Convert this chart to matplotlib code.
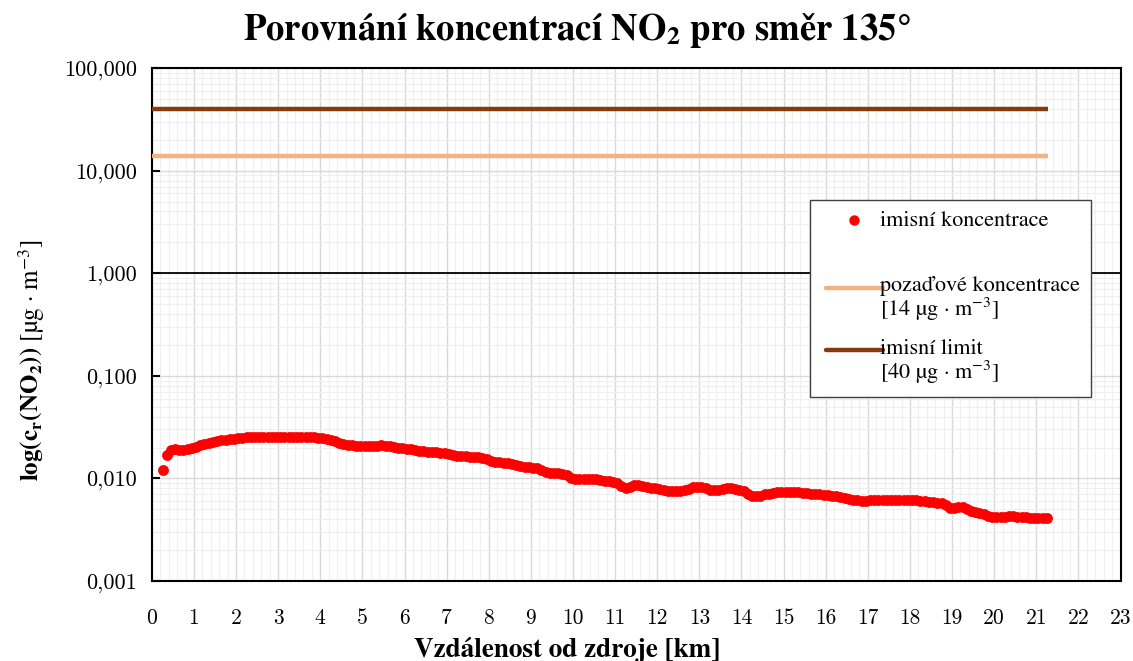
import matplotlib
matplotlib.use("Agg")
import matplotlib.pyplot as plt
from matplotlib.legend_handler import HandlerLine2D
from matplotlib.lines import Line2D
from matplotlib.ticker import FuncFormatter, LogLocator, MultipleLocator, NullFormatter

# distance from source [km] and ground concentration of NO2 [ug/m3]
distance_km = [
    0.27,
    0.35, 0.45, 0.55, 0.65, 0.75, 0.85, 0.95, 1.05, 1.15, 1.25,
    1.35, 1.45, 1.55, 1.65, 1.75, 1.85, 1.95, 2.05, 2.15, 2.25,
    2.35, 2.45, 2.55, 2.65, 2.75, 2.85, 2.95, 3.05, 3.15, 3.25,
    3.35, 3.45, 3.55, 3.65, 3.75, 3.85, 3.95, 4.05, 4.15, 4.25,
    4.35, 4.45, 4.55, 4.65, 4.75, 4.85, 4.95, 5.05, 5.15, 5.25,
    5.35, 5.45, 5.55, 5.65, 5.75, 5.85, 5.95, 6.05, 6.15, 6.25,
    6.35, 6.45, 6.55, 6.65, 6.75, 6.85, 6.95, 7.05, 7.15, 7.25,
    7.35, 7.45, 7.55, 7.65, 7.75, 7.85, 7.95, 8.05, 8.15, 8.25,
    8.35, 8.45, 8.55, 8.65, 8.75, 8.85, 8.95, 9.05, 9.15, 9.25,
    9.35, 9.45, 9.55, 9.65, 9.75, 9.85, 9.95, 10.05, 10.15, 10.25,
    10.35, 10.45, 10.55, 10.65, 10.75, 10.85, 10.95, 11.05, 11.15, 11.25,
    11.35, 11.45, 11.55, 11.65, 11.75, 11.85, 11.95, 12.05, 12.15, 12.25,
    12.35, 12.45, 12.55, 12.65, 12.75, 12.85, 12.95, 13.05, 13.15, 13.25,
    13.35, 13.45, 13.55, 13.65, 13.75, 13.85, 13.95, 14.05, 14.15, 14.25,
    14.35, 14.45, 14.55, 14.65, 14.75, 14.85, 14.95, 15.05, 15.15, 15.25,
    15.35, 15.45, 15.55, 15.65, 15.75, 15.85, 15.95, 16.05, 16.15, 16.25,
    16.35, 16.45, 16.55, 16.65, 16.75, 16.85, 16.95, 17.05, 17.15, 17.25,
    17.35, 17.45, 17.55, 17.65, 17.75, 17.85, 17.95, 18.05, 18.15, 18.25,
    18.35, 18.45, 18.55, 18.65, 18.75, 18.85, 18.95, 19.05, 19.15, 19.25,
    19.35, 19.45, 19.55, 19.65, 19.75, 19.85, 19.95, 20.05, 20.15, 20.25,
    20.35, 20.45, 20.55, 20.65, 20.75, 20.85, 20.95, 21.05, 21.15, 21.25,
]
concentration = [
    0.0121,
    0.0171, 0.0190, 0.0192, 0.0189, 0.0189, 0.0192, 0.0198, 0.0204, 0.0210, 0.0217,
    0.0224, 0.0228, 0.0232, 0.0236, 0.0239, 0.0242, 0.0245, 0.0247, 0.0249, 0.0251,
    0.0253, 0.0254, 0.0255, 0.0256, 0.0256, 0.0256, 0.0256, 0.0256, 0.0256, 0.0256,
    0.0255, 0.0255, 0.0254, 0.0254, 0.0253, 0.0251, 0.0249, 0.0247, 0.0243, 0.0238,
    0.0230, 0.0222, 0.0216, 0.0213, 0.0210, 0.0208, 0.0206, 0.0206, 0.0207, 0.0208,
    0.0209, 0.0210, 0.0209, 0.0205, 0.0201, 0.0198, 0.0196, 0.0194, 0.0192, 0.0190,
    0.0187, 0.0185, 0.0183, 0.0181, 0.0179, 0.0177, 0.0175, 0.0172, 0.0170, 0.0167,
    0.0165, 0.0164, 0.0163, 0.0162, 0.0161, 0.0158, 0.0153, 0.0148, 0.0146, 0.0144,
    0.0142, 0.0140, 0.0138, 0.0136, 0.0133, 0.0130, 0.0128, 0.0127, 0.0126, 0.0121,
    0.0116, 0.0114, 0.0113, 0.0112, 0.0111, 0.0107, 0.0102, 0.0099, 0.0098, 0.0098,
    0.0098, 0.0098, 0.0098, 0.0097, 0.0095, 0.0094, 0.0093, 0.0090, 0.0085, 0.0081,
    0.0083, 0.0086, 0.0087, 0.0085, 0.0083, 0.0081, 0.0080, 0.0079, 0.0077, 0.0076,
    0.0075, 0.0075, 0.0076, 0.0077, 0.0079, 0.0082, 0.0083, 0.0082, 0.0080, 0.0078,
    0.0077, 0.0078, 0.0079, 0.0080, 0.0080, 0.0079, 0.0077, 0.0075, 0.0071, 0.0068,
    0.0067, 0.0068, 0.0070, 0.0071, 0.0072, 0.0073, 0.0073, 0.0074, 0.0074, 0.0074,
    0.0073, 0.0072, 0.0072, 0.0071, 0.0071, 0.0070, 0.0069, 0.0069, 0.0068, 0.0067,
    0.0066, 0.0065, 0.0063, 0.0062, 0.0061, 0.0060, 0.0060, 0.0061, 0.0061, 0.0062,
    0.0062, 0.0062, 0.0062, 0.0062, 0.0062, 0.0062, 0.0061, 0.0061, 0.0061, 0.0060,
    0.0060, 0.0059, 0.0059, 0.0058, 0.0057, 0.0055, 0.0052, 0.0052, 0.0053, 0.0053,
    0.0050, 0.0048, 0.0047, 0.0046, 0.0045, 0.0043, 0.0042, 0.0042, 0.0042, 0.0042,
    0.0043, 0.0043, 0.0042, 0.0042, 0.0042, 0.0041, 0.0041, 0.0041, 0.0041, 0.0041,
]
background_conc = 14
limit_conc = 40
lines_end_km = 21.27

legend_labels = [
    "imisní koncentrace",
    "",
    "pozaďové koncentrace\n[14 µg · m$^{\\mathrm{-3}}$]",
    "imisní limit\n[40 µg · m$^{\\mathrm{-3}}$]",
]


class ShiftedHandler(HandlerLine2D):
    # legend handle moved right (dx) and up to the first text line (dy)
    def __init__(self, dx=0.0, dy=0.0, **kw):
        super().__init__(**kw)
        self.dx = dx
        self.dy = dy

    def create_artists(self, legend, orig_handle, xdescent, ydescent, width,
                       height, fontsize, trans):
        arts = super().create_artists(legend, orig_handle, xdescent, ydescent,
                                      width, height, fontsize, trans)
        for a in arts:
            xd = list(a.get_xdata())
            yd = [y + self.dy for y in a.get_ydata()]
            if len(xd) == 2:
                xd = [xd[0] + self.dx, xd[1] - 3]
            else:
                xd = [x + self.dx / 2 for x in xd]
            a.set_xdata(xd)
            a.set_ydata(yd)
            a.set_solid_capstyle("round")
        return arts


plt.rcParams["font.family"] = ["STIXGeneral"]
plt.rcParams["mathtext.fontset"] = "stix"
plt.rcParams["axes.unicode_minus"] = False

fig, ax = plt.subplots(figsize=(11.33, 6.61), dpi=100)
fig.subplots_adjust(left=0.134, right=0.989, top=0.897, bottom=0.121)

ax.set_yscale("log")
ax.set_xlim(0, 23)
ax.set_ylim(0.001, 100)

ax.xaxis.set_major_locator(MultipleLocator(1))
ax.xaxis.set_minor_locator(MultipleLocator(0.2))
ax.yaxis.set_major_locator(LogLocator(base=10, numticks=10))
ax.yaxis.set_minor_locator(LogLocator(base=10, subs=range(2, 10), numticks=20))
ax.yaxis.set_minor_formatter(NullFormatter())
ax.yaxis.set_major_formatter(FuncFormatter(lambda v, p: f"{v:.3f}".replace(".", ",")))

ax.grid(True, which="major", color="#d9d9d9", lw=1.0)
ax.grid(True, which="minor", color="#efefef", lw=0.8)
ax.set_axisbelow(True)

ax.axhline(1, color="black", lw=1.3, zorder=2)
ax.hlines(background_conc, 0, lines_end_km, color="#f4b183", lw=3.2, zorder=3)
ax.hlines(limit_conc, 0, lines_end_km, color="#843c0c", lw=3.2, zorder=3)
ax.plot(distance_km, concentration, "o", color="red", ms=7.8, mec="none", zorder=4)

ax.tick_params(axis="x", which="both", length=0, pad=20, labelsize=15.5)
ax.tick_params(axis="y", which="major", direction="in", length=6, width=1.5,
               pad=11, labelsize=16)
ax.tick_params(axis="y", which="minor", length=0)
for lab in ax.get_xticklabels() + ax.get_yticklabels():
    lab.set_family("cmr10")
for s in ax.spines.values():
    s.set_linewidth(1.5)
    s.set_color("black")

ax.set_title(r"Porovnání koncentrací NO$_{\mathbf{2}}$ pro směr 135°",
             fontweight="bold", fontsize=26.5, pad=20, x=0.439)
ax.set_xlabel("Vzdálenost od zdroje [km]", fontweight="bold", fontsize=19.5,
              labelpad=6, x=0.429)
ax.set_ylabel(r"$\mathbf{log(c_{r}(NO_{2}))}$ [µg · m$^{\mathrm{-3}}$]",
              fontsize=18, labelpad=12, y=0.43)

handles = [
    Line2D([], [], ls="none", marker="o", color="red", ms=7.5, mec="none"),
    Line2D([], [], ls="none"),
    Line2D([], [], color="#f4b183", lw=3.2),
    Line2D([], [], color="#843c0c", lw=3.2),
]
shift = ShiftedHandler(dx=7.0, dy=0.0)
shift_up = ShiftedHandler(dx=7.0, dy=9.5)
leg = ax.legend(handles, legend_labels, loc="upper left",
                bbox_to_anchor=(0.679, 0.743), fontsize=16, frameon=True,
                fancybox=False, framealpha=1, edgecolor="#404040",
                handlelength=2.6, handleheight=0.2, handletextpad=0.05,
                labelspacing=0.7, borderpad=0.5, borderaxespad=0,
                handler_map={handles[0]: shift, handles[2]: shift_up,
                             handles[3]: shift_up})
leg.get_frame().set_linewidth(1.0)
for t in leg.get_texts():
    t.set_linespacing(1.0)
# the empty spacer row is thinner than a text row
leg.get_texts()[1].set_fontsize(7)

fig.savefig("out.png", dpi=100)
